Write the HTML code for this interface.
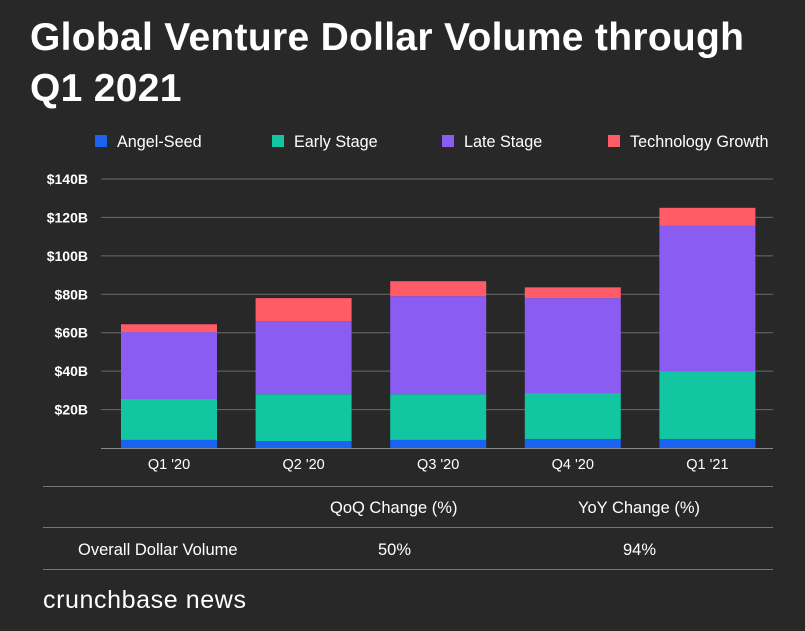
<!DOCTYPE html>
<html><head><meta charset="utf-8"><style>
body{margin:0;background:#282828;width:805px;height:631px;overflow:hidden;font-family:"Liberation Sans",sans-serif;color:#fff;position:relative}
.t{position:absolute;left:30px;top:12px;font-size:39px;font-weight:bold;line-height:51px;letter-spacing:0.3px}
.tbl{position:absolute;font-size:16.5px;color:#fff}
.ln{position:absolute;left:43px;width:730px;height:1px;background:#777}
</style></head><body>
<div class="t">Global Venture Dollar Volume through<br>Q1 2021</div>
<svg id="c" width="805" height="480" style="position:absolute;left:0;top:0"></svg>
<div class="ln" style="top:486px"></div>
<div class="tbl" style="left:330px;top:499px">QoQ Change (%)</div>
<div class="tbl" style="left:578px;top:499px">YoY Change (%)</div>
<div class="ln" style="top:527px"></div>
<div class="tbl" style="left:78px;top:541px">Overall Dollar Volume</div>
<div class="tbl" style="left:378px;top:541px">50%</div>
<div class="tbl" style="left:623px;top:541px">94%</div>
<div class="ln" style="top:569px"></div>
<div style="position:absolute;left:43px;top:586px;font-size:25px;letter-spacing:0.6px">crunchbase news</div>
<script>
const categories=["Q1 '20","Q2 '20","Q3 '20","Q4 '20","Q1 '21"];
const seriesNames=["Angel-Seed","Early Stage","Late Stage","Technology Growth"];
const angelSeed=[4.2,3.6,4.2,4.7,4.7];
const earlyStage=[21.3,24.4,23.8,23.9,35.3];
const lateStage=[34.8,38,51,49.4,75.8];
const techGrowth=[4.1,12,7.8,5.6,9.2];
const yTicks=[20,40,60,80,100,120,140];
const colors=["#1a63f0","#12c6a2","#8b5cf2","#ff5c68"];
const NS="http://www.w3.org/2000/svg";
const svg=document.getElementById('c');
const y0=448,pxPer=(448-179)/140;
const y=v=>y0-v*pxPer;
const x=i=>121+i*134.6;
const bw=96;
function mk(t,a,txt){const e=document.createElementNS(NS,t);for(const k in a)e.setAttribute(k,a[k]);if(txt!=null)e.textContent=txt;svg.appendChild(e);return e;}
yTicks.forEach(v=>{
 const g=mk('line',{x1:101,x2:773,y1:y(v),y2:y(v),stroke:'#6a6a6a','stroke-width':1});
 
 
 const t=mk('text',{x:88,y:y(v)+5,'text-anchor':'end',fill:'#fff','font-size':14,'font-weight':'bold'},'$'+v+'B');
 
 
});
const ax=mk('line',{x1:101,x2:773,y1:y0+0.5,y2:y0+0.5,stroke:'#8a8a8a','stroke-width':1});


const series=[angelSeed,earlyStage,lateStage,techGrowth];
categories.forEach((c,i)=>{
 let acc=0;
 series.forEach((s,k)=>{
  const r=mk('rect',{x:x(i),y:y(acc+s[i]),width:bw,height:s[i]*pxPer,fill:colors[k]});
  
  
  acc+=s[i];
 });
 const t=mk('text',{x:x(i)+bw/2,y:469,'text-anchor':'middle',fill:'#fff','font-size':14.5},c);
 
 
});
const lx=[95,272,442,608];
seriesNames.forEach((n,k)=>{
 const r=mk('rect',{x:lx[k],y:135,width:12,height:12,fill:colors[k]});
 
 
 const t=mk('text',{x:lx[k]+22,y:147,fill:'#fff','font-size':16.2},n);
 
 
});
</script>
</body></html>
